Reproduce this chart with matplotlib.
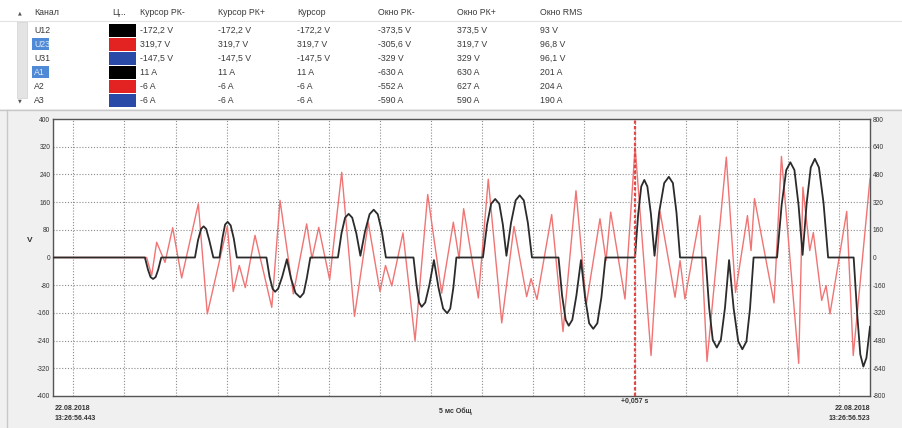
import matplotlib
matplotlib.use("Agg")
import matplotlib.pyplot as plt
from matplotlib.patches import Rectangle

plt.rcParams["font.family"] = ["Liberation Sans", "DejaVu Sans"]

# ---- channel table ----
channels = ["U12", "U23", "U31", "A1", "A2", "A3"]
channel_colors = ["#000000", "#e32222", "#2a4aa8", "#000000", "#e32222", "#2a4aa8"]
selected = ["U23", "A1"]
columns = ["Курсор РК-", "Курсор РК+", "Курсор", "Окно РК-", "Окно РК+", "Окно RMS"]
cursor_minus = ["-172,2 V", "319,7 V", "-147,5 V", "11 A", "-6 A", "-6 A"]
cursor_plus = ["-172,2 V", "319,7 V", "-147,5 V", "11 A", "-6 A", "-6 A"]
cursor_val = ["-172,2 V", "319,7 V", "-147,5 V", "11 A", "-6 A", "-6 A"]
window_min = ["-373,5 V", "-305,6 V", "-329 V", "-630 A", "-552 A", "-590 A"]
window_max = ["373,5 V", "319,7 V", "329 V", "630 A", "627 A", "590 A"]
window_rms = ["93 V", "96,8 V", "96,1 V", "201 A", "204 A", "190 A"]

# ---- waveforms (time in ms from window start) ----
u23_t = [0.0, 9.17, 9.66, 10.15, 10.97, 11.72, 12.60, 14.23, 15.11, 17.07, 17.65,
         18.24, 18.83, 19.78, 21.42, 22.23, 23.53, 24.84, 25.36, 26.02, 27.09,
         28.27, 29.52, 30.87, 32.02, 32.56, 33.17, 34.27, 35.45, 36.69, 38.06,
         39.20, 39.76, 40.21, 41.65, 42.62, 43.94, 45.14, 46.38, 46.81, 47.39,
         48.83, 49.94, 51.21, 52.22, 53.56, 54.15, 54.61, 56.01, 57.00, 58.56,
         59.44, 60.91, 61.40, 61.88, 63.35, 64.04, 65.93, 66.83, 68.00, 68.35,
         68.69, 70.60, 71.33, 73.02, 73.43, 74.10, 74.45, 75.27, 75.70, 76.08,
         77.72, 78.36, 80.0]
u23_v = [0, 0, -52, 44, -14, 86, -59, 155, -163, 90, -98,
         -23, -87, 64, -144, 165, -105, 97, -3, 87, -64,
         246, -170, 101, -98, -23, -82, 71, -240, 182, -103,
         102, -3, 141, -117, 226, -189, 90, -113, -61, -121,
         124, -214, 193, -136, 112, -9, 131, -120, 319.7, -283,
         133, -115, -9, -120, 121, -300, 290, -101, 121, 20,
         170, -131, 292, -305.6, 203, 20, 72, -124, -81, -163,
         133, -283, 228]

a1_t = [0.0,
        9.0, 9.3, 9.55, 9.8, 10.05, 10.3, 10.6,
        13.9, 14.2, 14.5, 14.75, 15.0, 15.3, 15.7,
        16.3, 16.6, 16.85, 17.1, 17.4, 17.7, 18.0,
        20.9, 21.2, 21.5, 21.75, 22.05, 22.45, 22.9,
        23.3, 23.75, 24.2, 24.55, 24.85, 25.2,
        27.9, 28.25, 28.6, 28.95, 29.3, 29.7, 30.1,
        30.55, 31.0, 31.4, 31.8, 32.2, 32.6,
        35.3, 35.6, 35.85, 36.1, 36.45, 36.85, 37.3,
        37.75, 38.2, 38.6, 38.9, 39.2, 39.5,
        42.1, 42.5, 42.9, 43.3, 43.7, 44.05, 44.4,
        44.85, 45.3, 45.7, 46.1, 46.5, 46.9,
        49.5, 49.85, 50.2, 50.5, 50.85, 51.25, 51.7,
        52.1, 52.5, 52.9, 53.3, 53.7, 54.1,
        56.95, 57.0, 57.3, 57.6, 57.9, 58.2, 58.55, 58.9,
        59.35, 59.85, 60.3, 60.7, 61.05, 61.4,
        63.9, 64.25, 64.6, 65.0, 65.4, 65.8, 66.2,
        66.65, 67.1, 67.5, 67.9, 68.25, 68.6,
        70.9, 71.35, 71.8, 72.2, 72.6, 73.0, 73.4,
        73.8, 74.2, 74.6, 75.0, 75.45, 75.9,
        78.4, 78.75, 79.05, 79.35, 79.65, 80.0]
a1_i = [0,
        0, -70, -113, -124, -113, -70, 0,
        0, 100, 165, 180, 165, 100, 0,
        0, 115, 190, 206, 185, 110, 0,
        0, -110, -180, -198, -180, -110, -10,
        -120, -205, -230, -205, -120, 0,
        0, 140, 230, 252, 230, 140, 10,
        150, 250, 276, 250, 150, 0,
        0, -160, -260, -285, -260, -160, -15,
        -175, -295, -322, -295, -175, 0,
        0, 190, 310, 338, 310, 190, 10,
        200, 330, 359, 330, 200, 0,
        0, -220, -360, -394, -360, -220, -15,
        -230, -380, -412, -380, -230, 0,
        0, 11, 250, 410, 448, 410, 250, 10,
        260, 430, 466, 430, 260, 0,
        0, -290, -475, -520, -475, -290, -15,
        -295, -485, -530, -485, -295, 0,
        0, 305, 505, 550, 505, 305, 15,
        315, 520, 570, 520, 315, 0,
        0, -330, -560, -630, -580, -400]

t_span = 80.0
grid_times = [2 + 5 * k for k in range(16)]
cursor_time = 57.0
v_ticks = list(range(-400, 401, 80))
a_ticks = list(range(-800, 801, 160))

W, H = 903, 428
fig = plt.figure(figsize=(W / 100, H / 100), dpi=100, facecolor="#f0f0f0")

# pixel-space background layer for the table and panel labels
bg = fig.add_axes([0, 0, 1, 1], zorder=0)
bg.set_xlim(0, W)
bg.set_ylim(H, 0)
bg.axis("off")

bg.add_patch(Rectangle((0, 0), W, 109, facecolor="white", edgecolor="none"))
bg.plot([0, W], [109.5, 109.5], color="#c8c8c8", lw=1)
bg.plot([0, W], [20.5, 20.5], color="#e2e2e2", lw=0.8)
bg.add_patch(Rectangle((17, 22), 10, 76, facecolor="#e4e4e4", edgecolor="#d0d0d0", lw=0.5))
bg.text(20, 13, "▲", fontsize=3.5, color="#555", ha="center", va="center", family="DejaVu Sans")
bg.text(20, 101, "▼", fontsize=3.5, color="#555", ha="center", va="center", family="DejaVu Sans")
bg.plot([7.5, 7.5], [110, H], color="#c8c8c8", lw=1)

text_kw = dict(fontsize=6.3, va="center", color="#3a3a3a")
row_y0, row_h, header_y = 30, 14, 12
col_x = [140, 218, 297, 378, 457, 540]
bg.text(34, header_y, "Канал", **text_kw)
bg.text(112, header_y, "Ц...", **text_kw)
for cx, name in zip(col_x, columns):
    bg.text(cx, header_y, name, **text_kw)

col_values = [cursor_minus, cursor_plus, cursor_val, window_min, window_max, window_rms]
for i, ch in enumerate(channels):
    y = row_y0 + i * row_h
    if ch in selected:
        bg.add_patch(Rectangle((32, y - 6), 17, 12, facecolor="#4f8ad6", edgecolor="none"))
        bg.text(34, y, ch, fontsize=6.3, va="center", color="#dfe9f7")
    else:
        bg.text(34, y, ch, **text_kw)
    bg.add_patch(Rectangle((109, y - 6.5), 27, 13, facecolor=channel_colors[i], edgecolor="none"))
    for cx, vals in zip(col_x, col_values):
        bg.text(cx, y, vals[i], **text_kw)

# ---- waveform plot ----
left, right, top, bottom = 53, 870, 119, 396
ax = fig.add_axes([left / W, 1 - bottom / H, (right - left) / W, (bottom - top) / H], zorder=1)
ax.set_facecolor("white")
ax.set_xlim(0, t_span)
ax.set_ylim(-400, 400)
ax.set_yticks(v_ticks)
ax.set_yticklabels([str(v) for v in v_ticks])
ax.set_xticks([])
ax.tick_params(axis="y", length=0, pad=2, labelsize=4.8, labelcolor="#333333")
for s in ax.spines.values():
    s.set_color("#555555")
    s.set_linewidth(1)

grid_kw = dict(color="#8c8c8c", lw=0.8, ls=(0, (1, 1.6)), zorder=1)
for v in v_ticks[1:-1]:
    if v != 0:
        ax.axhline(v, **grid_kw)
for gt in grid_times:
    ax.axvline(gt, **grid_kw)

axr = ax.twinx()
axr.set_ylim(-800, 800)
axr.set_yticks(a_ticks)
axr.set_yticklabels([str(a) for a in a_ticks])
axr.tick_params(axis="y", length=0, pad=2, labelsize=4.8, labelcolor="#333333")
for s in axr.spines.values():
    s.set_visible(False)

ax.plot(u23_t, u23_v, color="#f07474", lw=1.0, zorder=3)
axr.plot(a1_t, a1_i, color="#2b2b2b", lw=1.3, zorder=4)
axr.axvline(cursor_time, color="#e04848", lw=1.6, ls=(0, (1.5, 1)), zorder=5)

bg.text(30, 240, "V", fontsize=6, ha="center", va="center", color="#333333", fontweight="bold")

lab_kw = dict(fontsize=5, color="#333333", va="center", fontweight="bold")
bg.text(55, 408, "22.08.2018", ha="left", **lab_kw)
bg.text(55, 418, "13:26:56.443", ha="left", **lab_kw)
bg.text(right, 408, "22.08.2018", ha="right", **lab_kw)
bg.text(right, 418, "13:26:56.523", ha="right", **lab_kw)
bg.text(455, 411, "5 мс Общ", ha="center", **lab_kw)
cx_pix = left + (right - left) * cursor_time / t_span
bg.text(cx_pix, 401, "+0,057 s", ha="center", **lab_kw)

fig.savefig("out.png", dpi=100, facecolor=fig.get_facecolor())
